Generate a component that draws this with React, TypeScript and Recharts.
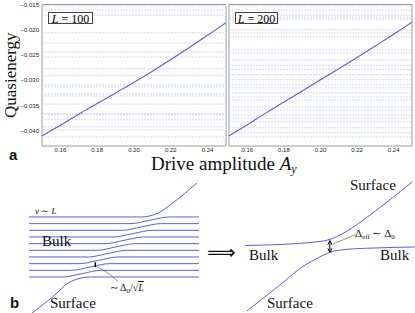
import React from 'react';
import { LineChart, Line, XAxis, YAxis, ReferenceLine, ReferenceArea } from 'recharts';

// ---------- panel a data ----------
const driveAmplitude = [0.15, 0.16, 0.17, 0.18, 0.19, 0.2, 0.21, 0.22, 0.23, 0.24, 0.25];
const surfaceL100 = [-0.041, -0.0389, -0.0367, -0.0346, -0.0325, -0.0304, -0.0282, -0.0259, -0.0235, -0.0211, -0.0186];
const surfaceL200 = [-0.041, -0.0388, -0.0365, -0.0343, -0.0321, -0.0299, -0.0277, -0.0255, -0.0232, -0.0209, -0.0185];
const bulkL100 = [-0.0153, -0.0161, -0.0171, -0.0206, -0.0226, -0.0244, -0.0254, -0.0277, -0.0291, -0.0309, -0.0313, -0.0327, -0.0331, -0.0347, -0.0366, -0.0368, -0.0378, -0.0392, -0.0398, -0.0412];
const bulkL200 = [-0.0153, -0.0161, -0.0171, -0.0175, -0.0179, -0.02, -0.0206, -0.0214, -0.024, -0.0246, -0.026, -0.027, -0.0279, -0.0289, -0.0299, -0.0309, -0.0315, -0.0325, -0.0333, -0.0339, -0.0353, -0.0359, -0.0369, -0.0375, -0.0382, -0.0394, -0.0404, -0.0412];
const xTicks = [0.16, 0.18, 0.2, 0.22, 0.24];
const yTicks = [-0.04, -0.035, -0.03, -0.025, -0.02, -0.015];
const xDomain = [0.15, 0.25];
const yDomain = [-0.043, -0.015];

// ---------- panel b data (schematic, x: drive, y: level index) ----------
type P = { x: number; y: number };
const ladderStates: P[][] = [
  [{ x: 0.18, y: -5.4 }, { x: 1.5, y: -2.75 }, { x: 2.4, y: -0.75 }, { x: 3.6, y: 0 }, { x: 10, y: 0 }],
  [{ x: 0, y: 0 }, { x: 2.0, y: 0 }, { x: 3.11, y: 0.5 }, { x: 4.25, y: 1 }, { x: 10, y: 1 }],
  [{ x: 0, y: 1 }, { x: 2.5, y: 1 }, { x: 3.6, y: 1.5 }, { x: 4.75, y: 2 }, { x: 10, y: 2 }],
  [{ x: 0, y: 2 }, { x: 3.0, y: 2 }, { x: 4.1, y: 2.5 }, { x: 5.25, y: 3 }, { x: 10, y: 3 }],
  [{ x: 0, y: 3 }, { x: 3.5, y: 3 }, { x: 4.6, y: 3.5 }, { x: 5.75, y: 4 }, { x: 10, y: 4 }],
  [{ x: 0, y: 4 }, { x: 4.0, y: 4 }, { x: 5.1, y: 4.5 }, { x: 6.25, y: 5 }, { x: 10, y: 5 }],
  [{ x: 0, y: 5 }, { x: 4.5, y: 5 }, { x: 5.6, y: 5.5 }, { x: 6.75, y: 6 }, { x: 10, y: 6 }],
  [{ x: 0, y: 6 }, { x: 5.0, y: 6 }, { x: 6.1, y: 6.5 }, { x: 7.25, y: 7 }, { x: 10, y: 7 }],
  [{ x: 0, y: 7 }, { x: 5.5, y: 7 }, { x: 6.6, y: 7.5 }, { x: 7.75, y: 8 }, { x: 10, y: 8 }],
  [{ x: 0, y: 8 }, { x: 6.0, y: 8 }, { x: 7.1, y: 8.5 }, { x: 8.25, y: 9 }, { x: 10, y: 9 }],
  [{ x: 0, y: 9 }, { x: 6.6, y: 9 }, { x: 7.6, y: 9.6 }, { x: 8.4, y: 11.0 }, { x: 9.88, y: 14.1 }],
];
const upperBranch: P[] = [
  { x: 12.71, y: 4.72 }, { x: 14.76, y: 4.87 }, { x: 16.53, y: 5.17 }, { x: 17.59, y: 5.55 },
  { x: 18.59, y: 6.7 }, { x: 20.06, y: 9.3 }, { x: 22.53, y: 14.24 },
];
const lowerBranch: P[] = [
  { x: 12.82, y: -5.1 }, { x: 14.76, y: -1.2 }, { x: 16.24, y: 1.8 }, { x: 17.0, y: 2.85 },
  { x: 17.59, y: 3.6 }, { x: 18.59, y: 4.12 }, { x: 20.35, y: 4.35 }, { x: 22.7, y: 4.5 },
];
const gapLeft: P[] = [{ x: 3.9, y: 1.5 }, { x: 3.9, y: 2.2 }];
const gapRight: P[] = [{ x: 17.7, y: 3.7 }, { x: 17.7, y: 5.45 }];
const headTop: P[] = [{ x: 17.58, y: 4.85 }, { x: 17.7, y: 5.45 }, { x: 17.82, y: 4.85 }];
const headBottom: P[] = [{ x: 17.58, y: 4.3 }, { x: 17.7, y: 3.7 }, { x: 17.82, y: 4.3 }];
const pointerLeft: P[] = [{ x: 4.0, y: 1.5 }, { x: 4.45, y: 0.9 }, { x: 5.25, y: -0.7 }];
const pointerRight: P[] = [{ x: 17.88, y: 4.95 }, { x: 18.5, y: 5.6 }, { x: 19.2, y: 6.35 }];

const BLUE = '#5c5cf0';
const FAINT = '#d6d6f6';
const SERIF = '"Liberation Serif", "Times New Roman", serif';
const SANS = '"Liberation Sans", Arial, sans-serif';

const fmtY = (v: number) => (v < 0 ? '\u2212' : '') + Math.abs(v).toFixed(3);

function T({ x, base, fs, children, style, font = SERIF }: any) {
  return (
    <div
      style={{
        position: 'absolute', left: x, top: base - 0.8375 * fs, fontSize: fs, lineHeight: 1,
        fontFamily: font, whiteSpace: 'nowrap', color: '#111', ...style,
      }}
    >
      {children}
    </div>
  );
}

function Panel({ data, bulk, showY, left, width, marginLeft, label }: any) {
  const rows = driveAmplitude.map((x, i) => ({ x, y: data[i] }));
  return (
    <div style={{ position: 'absolute', left, top: 0 }}>
      <LineChart width={width} height={160} data={rows} margin={{ top: 4.5, right: 3, bottom: 0, left: marginLeft }}>
        <XAxis
          type="number" dataKey="x" domain={xDomain} ticks={xTicks} allowDataOverflow
          tickFormatter={(v: number) => v.toFixed(2)} height={14} axisLine={false} tickLine={false}
          tickSize={2} tickMargin={0} tick={{ fontSize: 6, fill: '#222', fontFamily: SANS }}
        />
        <YAxis
          type="number" domain={yDomain} ticks={yTicks} allowDataOverflow hide={!showY}
          width={showY ? 42 : 0} tickFormatter={fmtY} axisLine={false} tickLine={false}
          tickSize={3} tickMargin={0} tick={{ fontSize: 6, fill: '#222', fontFamily: SANS }}
        />
        {bulk.map((v: number, i: number) => (
          <ReferenceLine key={i} y={v} stroke={FAINT} strokeWidth={1} strokeDasharray="2 1" />
        ))}
        <ReferenceArea x1={xDomain[0]} x2={xDomain[1]} y1={yDomain[0]} y2={yDomain[1]} fill="none" stroke="#9a9a9a" strokeWidth={1} />
        <Line type="monotone" dataKey="y" stroke={BLUE} strokeWidth={1.1} dot={false} isAnimationActive={false} />
      </LineChart>
      <div
        style={{
          position: 'absolute', left: label.x, top: 12, width: label.w, height: 12, border: '1px solid #444',
          background: '#fff', fontFamily: SERIF, fontSize: 12, lineHeight: '12px', textAlign: 'center', boxSizing: 'border-box',
        }}
      >
        <i>L</i> = {label.t}
      </div>
    </div>
  );
}

export default function App() {
  return (
    <div style={{ position: 'absolute', left: 0, top: 0, width: 415, height: 313, background: '#fff', overflow: 'hidden' }}>
      <Panel data={surfaceL100} bulk={bulkL100} showY left={0} width={229} marginLeft={0} label={{ x: 48, w: 45, t: '100' }} />
      <Panel data={surfaceL200} bulk={bulkL200} showY={false} left={200} width={215} marginLeft={29} label={{ x: 35, w: 43, t: '200' }} />

      <div
        style={{
          position: 'absolute', left: 1, top: 25, width: 20, height: 100, lineHeight: '20px',
          textAlign: 'center', fontFamily: SERIF, fontSize: 17, writingMode: 'vertical-rl',
          transform: 'rotate(180deg)', color: '#111', whiteSpace: 'nowrap',
        }}
      >
        Quasienergy
      </div>
      <T x={151} base={170} fs={19}>
        Drive amplitude <i>A</i><sub style={{ fontSize: 12, fontStyle: 'italic', verticalAlign: -3 }}>y</sub>
      </T>
      <T x={9} base={160} fs={15} font={SANS} style={{ fontWeight: 'bold' }}>a</T>
      <T x={10} base={308} fs={15} font={SANS} style={{ fontWeight: 'bold' }}>b</T>

      <div style={{ position: 'absolute', left: 0, top: 150 }}>
        <LineChart width={415} height={163} margin={{ top: 0, right: 0, bottom: 0, left: 0 }}>
          <XAxis type="number" dataKey="x" domain={[-1.706, 22.706]} hide allowDataOverflow />
          <YAxis type="number" dataKey="y" domain={[-5.4, 19.04]} hide allowDataOverflow />
          {ladderStates.map((s, i) => (
            <Line key={i} data={s} type="monotone" dataKey="y" stroke={BLUE} strokeWidth={1} dot={false} isAnimationActive={false} />
          ))}
          <Line data={upperBranch} type="monotone" dataKey="y" stroke={BLUE} strokeWidth={1} dot={false} isAnimationActive={false} />
          <Line data={lowerBranch} type="monotone" dataKey="y" stroke={BLUE} strokeWidth={1} dot={false} isAnimationActive={false} />
          <Line data={pointerLeft} type="monotone" dataKey="y" stroke="#444" strokeWidth={0.6} dot={false} isAnimationActive={false} />
          <Line data={pointerRight} type="monotone" dataKey="y" stroke="#444" strokeWidth={0.6} dot={false} isAnimationActive={false} />
          <Line data={gapLeft} type="linear" dataKey="y" stroke="#000" strokeWidth={1.5} dot={false} isAnimationActive={false} />
          <Line data={gapRight} type="linear" dataKey="y" stroke="#000" strokeWidth={1} dot={false} isAnimationActive={false} />
          <Line data={headTop} type="linear" dataKey="y" stroke="#000" strokeWidth={1} dot={false} isAnimationActive={false} />
          <Line data={headBottom} type="linear" dataKey="y" stroke="#000" strokeWidth={1} dot={false} isAnimationActive={false} />
        </LineChart>
      </div>

      <T x={35} base={215} fs={9}><i>ν</i> ∼ <i>L</i></T>
      <T x={42} base={247} fs={15}>Bulk</T>
      <T x={50} base={309} fs={15}>Surface</T>
      <T x={110} base={291} fs={10}>∼ Δ<sub style={{ fontSize: 7, verticalAlign: -2 }}>0</sub>/√<span style={{ textDecoration: 'overline' }}><i>L</i></span></T>
      <T x={207} base={259} fs={20} font='"DejaVu Sans", sans-serif'>⟹</T>
      <T x={350} base={191} fs={15}>Surface</T>
      <T x={355} base={237} fs={11}>Δ<sub style={{ fontSize: 7, verticalAlign: -2 }}>eff</sub> ∼ Δ<sub style={{ fontSize: 7, verticalAlign: -2 }}>0</sub></T>
      <T x={249} base={261} fs={15}>Bulk</T>
      <T x={380} base={261} fs={15}>Bulk</T>
      <T x={267} base={309} fs={15}>Surface</T>
    </div>
  );
}
